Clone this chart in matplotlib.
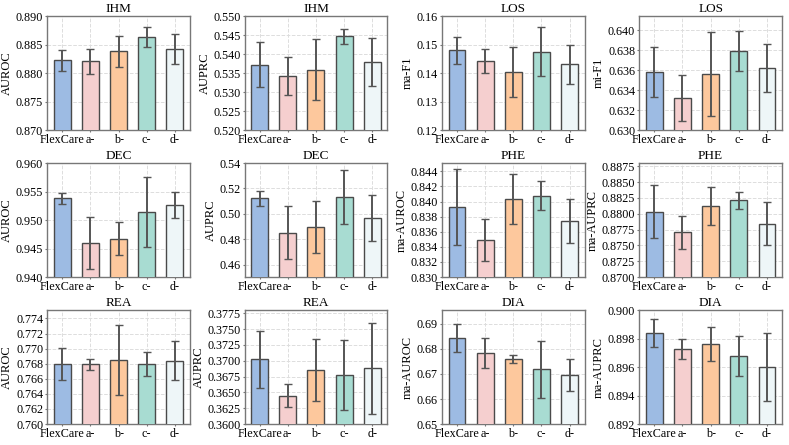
import numpy as np
import matplotlib
matplotlib.use("Agg")
import matplotlib.pyplot as plt

plt.rcParams["font.family"] = "Liberation Serif"

models = ["FlexCare", "a-", "b-", "c-", "d-"]
colors = ["#9dbbe3", "#f5cfcf", "#fdc89d", "#a8dcd2", "#eef6f8"]

# task titles, y labels, limits and ticks per panel (row by row)
titles = ["IHM", "IHM", "LOS", "LOS",
          "DEC", "DEC", "PHE", "PHE",
          "REA", "REA", "DIA", "DIA"]
ylabels = ["AUROC", "AUPRC", "ma-F1", "mi-F1",
           "AUROC", "AUPRC", "ma-AUROC", "ma-AUPRC",
           "AUROC", "AUPRC", "ma-AUROC", "ma-AUPRC"]

means = [
    [0.8822, 0.8821, 0.8838, 0.8863, 0.8842],
    [0.5372, 0.5343, 0.5359, 0.5447, 0.5380],
    [0.1480, 0.1441, 0.1403, 0.1475, 0.1430],
    [0.6358, 0.6332, 0.6356, 0.6379, 0.6362],
    [0.9538, 0.9460, 0.9467, 0.9514, 0.9526],
    [0.5122, 0.4852, 0.4900, 0.5132, 0.4970],
    [0.8393, 0.8349, 0.8403, 0.8408, 0.8374],
    [0.8803, 0.8771, 0.8812, 0.8821, 0.8784],
    [0.7680, 0.7679, 0.7685, 0.7680, 0.7684],
    [0.3702, 0.3645, 0.3685, 0.3677, 0.3688],
    [0.6845, 0.6784, 0.6761, 0.6718, 0.6695],
    [0.8984, 0.8973, 0.8976, 0.8968, 0.8960],
]
errs = [
    [0.0018, 0.0022, 0.0027, 0.0017, 0.0026],
    [0.0060, 0.0050, 0.0080, 0.0020, 0.0063],
    [0.0048, 0.0042, 0.0087, 0.0085, 0.0068],
    [0.0025, 0.0023, 0.0042, 0.0020, 0.0024],
    [0.0009, 0.0046, 0.0029, 0.0062, 0.0023],
    [0.0058, 0.0210, 0.0205, 0.0213, 0.0180],
    [0.0050, 0.0028, 0.0033, 0.0019, 0.0029],
    [0.0042, 0.0026, 0.0030, 0.0014, 0.0034],
    [0.0021, 0.0007, 0.0046, 0.0016, 0.0026],
    [0.0045, 0.0018, 0.0049, 0.0055, 0.0072],
    [0.0056, 0.0059, 0.0016, 0.0113, 0.0064],
    [0.0010, 0.0007, 0.0012, 0.0014, 0.0024],
]
ylims = [
    (0.870, 0.890), (0.520, 0.550), (0.12, 0.16), (0.630, 0.6414),
    (0.940, 0.960), (0.4503, 0.54), (0.830, 0.8451), (0.870, 0.8880),
    (0.760, 0.7751), (0.360, 0.3780), (0.65, 0.6955), (0.892, 0.900),
]
yticks = [
    np.arange(0.870, 0.8901, 0.005), np.arange(0.520, 0.5501, 0.005),
    np.arange(0.12, 0.1601, 0.01), np.arange(0.630, 0.6401, 0.002),
    np.arange(0.940, 0.9601, 0.005), np.arange(0.46, 0.5401, 0.02),
    np.arange(0.830, 0.8441, 0.002), np.arange(0.870, 0.88751, 0.0025),
    np.arange(0.760, 0.7741, 0.002), np.arange(0.360, 0.37751, 0.0025),
    np.arange(0.65, 0.6901, 0.01), np.arange(0.892, 0.9001, 0.002),
]
fmts = ["%.3f", "%.3f", "%.2f", "%.3f",
        "%.3f", "%.2f", "%.3f", "%.4f",
        "%.3f", "%.4f", "%.2f", "%.3f"]

fig, axes = plt.subplots(3, 4, figsize=(7.89, 4.45), dpi=100)
plt.subplots_adjust(left=0.06, right=0.991, top=0.964, bottom=0.047,
                    wspace=0.385, hspace=0.29)

x = np.arange(len(models))
for k, ax in enumerate(axes.flat):
    ax.bar(x, means[k], width=0.6, color=colors, edgecolor="#4a4a4a",
           linewidth=1.0, zorder=3)
    ax.errorbar(x, means[k], yerr=errs[k], fmt="none", ecolor="#555555",
                elinewidth=1.4, capsize=3, capthick=1.0, zorder=4)
    ax.set_ylim(*ylims[k])
    ax.set_yticks(yticks[k])
    ax.set_yticklabels([fmts[k] % t for t in yticks[k]], fontsize=8.7)
    ax.set_xticks(x)
    ax.set_xticklabels(models, fontsize=8.7)
    ax.tick_params(axis="both", length=1.5, pad=1.5, color="#777777")
    ax.set_title(titles[k], fontsize=9.5, pad=3)
    ax.set_ylabel(ylabels[k], fontsize=9, labelpad=2)
    ax.grid(True, linestyle="--", color="#dddddd", linewidth=0.7, zorder=0)
    for s in ax.spines.values():
        s.set_color("#777777")
        s.set_linewidth(1.0)

fig.savefig("out.png", dpi=100)
